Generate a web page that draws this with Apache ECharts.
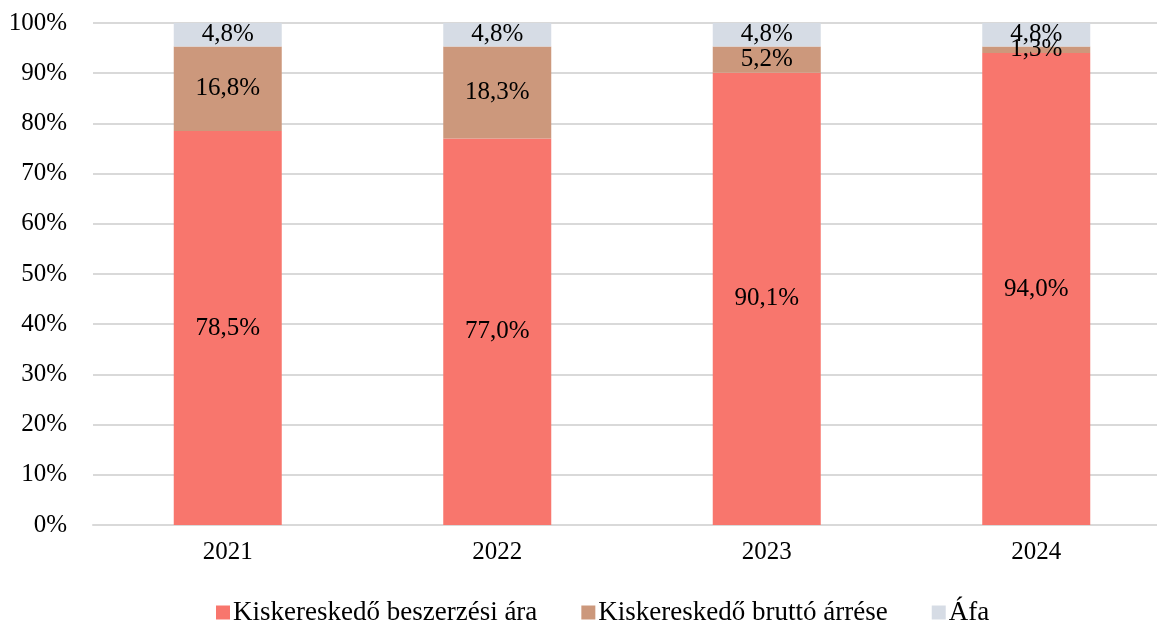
<!DOCTYPE html>
<html>
<head>
<meta charset="utf-8">
<script src="https://cdn.jsdelivr.net/npm/echarts@6/dist/echarts.min.js"></script>
<style>
  html, body { margin: 0; padding: 0; background: #fff; }
  #main { width: 1157px; height: 622px; }
</style>
</head>
<body>
<div id="main"></div>
<script>
var years = ['2021', '2022', '2023', '2024'];
var beszerzesi = [78.5, 77.0, 90.1, 94.0];
var arres = [16.8, 18.3, 5.2, 1.3];
var afa = [4.8, 4.8, 4.8, 4.8];

var font = '"Liberation Serif", "Times New Roman", serif';

function pct(p) {
  return p.value.toFixed(1).replace('.', ',') + '%';
}

function makeSeries(name, data, color) {
  return {
    name: name,
    type: 'bar',
    stack: 'total',
    barWidth: 108,
    clip: true,
    data: data,
    itemStyle: { color: color },
    label: {
      show: true,
      position: 'inside',
      formatter: pct,
      color: '#000',
      fontFamily: font,
      fontSize: 25
    },
    emphasis: { disabled: true }
  };
}

var chart = echarts.init(document.getElementById('main'));
var option = {
  animation: false,
  textStyle: { fontFamily: font },
  // plot area runs past the right edge of the picture, as in the original
  grid: { left: 93, width: 1078, top: 23, bottom: 97, containLabel: false, outerBoundsMode: 'none' },
  legend: {
    top: 594,
    left: 211,
    itemWidth: 14,
    itemHeight: 14,
    itemGap: 44,
    icon: 'rect',
    textStyle: { fontFamily: font, fontSize: 27, color: '#000', padding: [0, 0, 0, -2] },
    data: ['Kiskereskedő beszerzési ára', 'Kiskereskedő bruttó árrése', 'Áfa']
  },
  xAxis: {
    type: 'category',
    data: years,
    axisLine: { show: true, lineStyle: { color: '#d9d9d9', width: 2 } },
    axisTick: { show: false },
    axisLabel: { fontFamily: font, fontSize: 25, color: '#000', margin: 15 }
  },
  yAxis: {
    type: 'value',
    min: 0,
    max: 100,
    interval: 10,
    axisLine: { show: false },
    axisTick: { show: false },
    splitLine: { lineStyle: { color: '#d9d9d9', width: 2 } },
    axisLabel: {
      fontFamily: font, fontSize: 25, color: '#000', margin: 26,
      formatter: '{value}%'
    }
  },
  series: [
    makeSeries('Kiskereskedő beszerzési ára', beszerzesi, '#f8766d'),
    makeSeries('Kiskereskedő bruttó árrése', arres, '#cc987c'),
    makeSeries('Áfa', afa, '#d6dce5')
  ]
};
chart.setOption(option);
</script>
</body>
</html>
